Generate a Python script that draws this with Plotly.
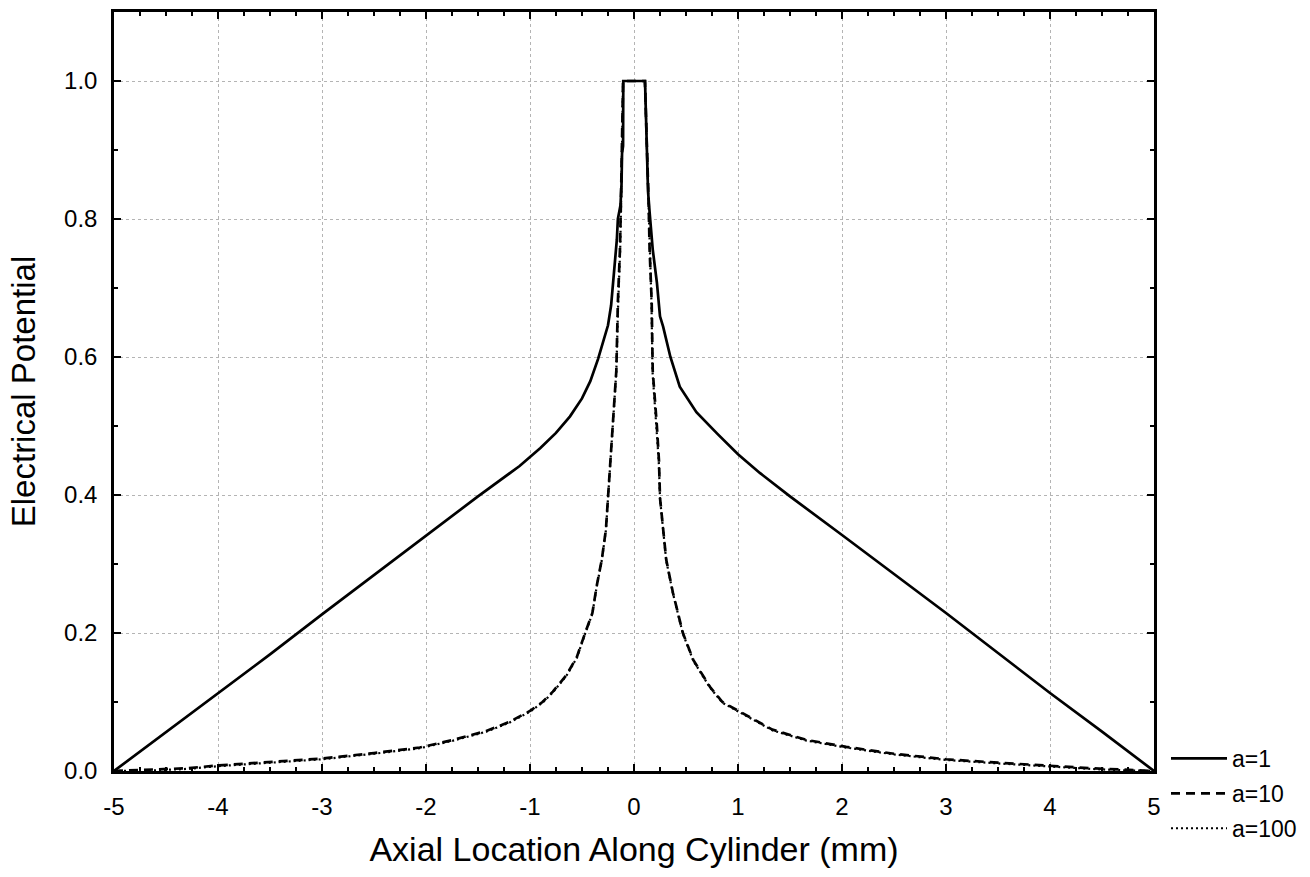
import plotly.graph_objects as go

# ---- data ----
x_a1 = [-5.0, -4.5, -4.0, -3.5, -3.0, -2.5, -2.0, -1.5, -1.1, -0.9, -0.75, -0.615, -0.5, -0.42,
        -0.346, -0.29, -0.25, -0.22, -0.2, -0.18, -0.165, -0.155, -0.13, -0.12, -0.115, -0.105,
        -0.103, 0.106, 0.108, 0.115, 0.125, 0.135, 0.15, 0.165, 0.18, 0.22, 0.25, 0.28, 0.35,
        0.44, 0.6, 0.8, 1.0, 1.21, 1.5, 2.0, 2.5, 3.0, 3.5, 4.0, 4.5, 5.0]
y_a1 = [0.0, 0.056, 0.112, 0.169, 0.227, 0.284, 0.341, 0.398, 0.442, 0.468, 0.49, 0.514, 0.54, 0.565,
        0.597, 0.625, 0.646, 0.675, 0.708, 0.74, 0.77, 0.80, 0.82, 0.85, 0.895, 0.906,
        1.0, 1.0, 0.99, 0.93, 0.87, 0.84, 0.81, 0.78, 0.756, 0.708, 0.659, 0.644, 0.60,
        0.557, 0.52, 0.489, 0.459, 0.432, 0.398, 0.342, 0.286, 0.229, 0.171, 0.113, 0.057, 0.0]

x_a10 = [-5.0, -4.6, -4.3, -4.0, -3.5, -3.0, -2.5, -2.06, -1.74, -1.42, -1.2, -1.0, -0.88, -0.78,
         -0.65, -0.55, -0.47, -0.4, -0.36, -0.31, -0.27, -0.25, -0.22, -0.2, -0.17, -0.155, -0.135,
         -0.125, -0.115, -0.108, -0.105, 0.105, 0.115, 0.125, 0.14, 0.15, 0.17, 0.18, 0.22, 0.24,
         0.25, 0.28, 0.31, 0.375, 0.47, 0.57, 0.73, 0.85, 1.02, 1.33, 1.66, 2.04, 2.5, 3.0, 3.5,
         4.03, 4.4, 4.7, 5.0]
y_a10 = [0.0, 0.002, 0.004, 0.008, 0.013, 0.018, 0.026, 0.034, 0.045, 0.058, 0.071, 0.087, 0.1, 0.115,
         0.139, 0.165, 0.2, 0.229, 0.267, 0.306, 0.35, 0.396, 0.45, 0.5, 0.58, 0.68, 0.756,
         0.83, 0.9, 0.96, 1.0, 1.0, 0.96, 0.9, 0.83, 0.756, 0.68, 0.58, 0.5, 0.45,
         0.396, 0.35, 0.306, 0.258, 0.2, 0.161, 0.122, 0.1, 0.086, 0.06, 0.045, 0.035, 0.025, 0.017, 0.012,
         0.007, 0.004, 0.002, 0.0]

x_a100 = [-5.0, -4.6, -4.3, -4.0, -3.5, -3.0, -2.5, -2.06, -1.74, -1.42, -1.2, -1.0, -0.88, -0.78,
          -0.65, -0.55, -0.47, -0.4, -0.36, -0.31, -0.27, -0.25, -0.22, -0.2, -0.17, -0.152, -0.133,
          -0.123, -0.113, -0.107, -0.105, 0.105, 0.113, 0.123, 0.138, 0.148, 0.168, 0.178, 0.218, 0.238,
          0.25, 0.28, 0.31, 0.375, 0.47, 0.57, 0.73, 0.85, 1.02, 1.33, 1.66, 2.04, 2.5, 3.0, 3.5,
          4.03, 4.4, 4.7, 5.0]
y_a100 = [0.0, 0.001, 0.003, 0.007, 0.012, 0.017, 0.025, 0.033, 0.044, 0.057, 0.07, 0.086, 0.099, 0.114,
          0.138, 0.164, 0.199, 0.228, 0.266, 0.305, 0.349, 0.395, 0.449, 0.499, 0.579, 0.679, 0.755,
          0.83, 0.9, 0.96, 1.0, 1.0, 0.96, 0.9, 0.83, 0.755, 0.679, 0.579, 0.499, 0.449,
          0.395, 0.349, 0.305, 0.257, 0.199, 0.16, 0.121, 0.099, 0.085, 0.059, 0.044, 0.034, 0.024, 0.016, 0.011,
          0.006, 0.003, 0.001, 0.0]

series_names = ["a=1", "a=10", "a=100"]
x_ticks = [-5, -4, -3, -2, -1, 0, 1, 2, 3, 4, 5]
x_tick_labels = ["-5", "-4", "-3", "-2", "-1", "0", "1", "2", "3", "4", "5"]
y_ticks = [0.0, 0.2, 0.4, 0.6, 0.8, 1.0]
y_tick_labels = ["0.0", "0.2", "0.4", "0.6", "0.8", "1.0"]

FONT = "Arial, Liberation Sans, sans-serif"

fig = go.Figure()
fig.add_trace(go.Scatter(x=x_a1, y=y_a1, mode="lines", name=series_names[0], legendgroup="g1",
                         line=dict(color="black", width=2.7)))
fig.add_trace(go.Scatter(x=x_a10, y=y_a10, mode="lines", name=series_names[1], legendgroup="g2",
                         line=dict(color="black", width=2.7, dash="9px,6px")))
fig.add_trace(go.Scatter(x=x_a100, y=y_a100, mode="lines", name=series_names[2], legendgroup="g3",
                         line=dict(color="black", width=2.2, dash="2px,3px")))

axis_common = dict(
    showline=True, linecolor="black", linewidth=2.5, mirror="allticks",
    ticks="inside", ticklen=7, tickwidth=2, tickcolor="black",
    showgrid=True, gridcolor="#b4b4b4", gridwidth=1, griddash="dot",
    zeroline=False,
    tickfont=dict(family=FONT, size=24, color="black"),
)

fig.update_xaxes(
    range=[-5, 5], tickvals=x_ticks, ticktext=x_tick_labels,
    minor=dict(dtick=0.25, ticks="inside", ticklen=4, tickwidth=1.5, tickcolor="black", showgrid=False),
    ticklabelstandoff=12,
    title=dict(text="Axial Location Along Cylinder (mm)", font=dict(family=FONT, size=34, color="black"),
               standoff=19),
    **axis_common,
)
fig.update_yaxes(
    range=[0, 1.1], tickvals=y_ticks, ticktext=y_tick_labels,
    minor=dict(dtick=0.1, ticks="inside", ticklen=4, tickwidth=1.5, tickcolor="black", showgrid=False),
    ticklabelstandoff=9,
    title=dict(text="Electrical Potential", font=dict(family=FONT, size=33, color="black"),
               standoff=19),
    **axis_common,
)

fig.update_layout(
    width=1310, height=877,
    margin=dict(l=114, r=156, t=12, b=106, autoexpand=False),
    plot_bgcolor="white", paper_bgcolor="white",
    font=dict(family=FONT, color="black"),
    legend=dict(
        xref="container", yref="container", x=1166 / 1310, y=1 - 737 / 877,
        xanchor="left", yanchor="top",
        font=dict(family=FONT, size=23, color="black"),
        itemwidth=56, tracegroupgap=2, bgcolor="rgba(0,0,0,0)",
    ),
    showlegend=True,
)

fig.write_html("out.html")
